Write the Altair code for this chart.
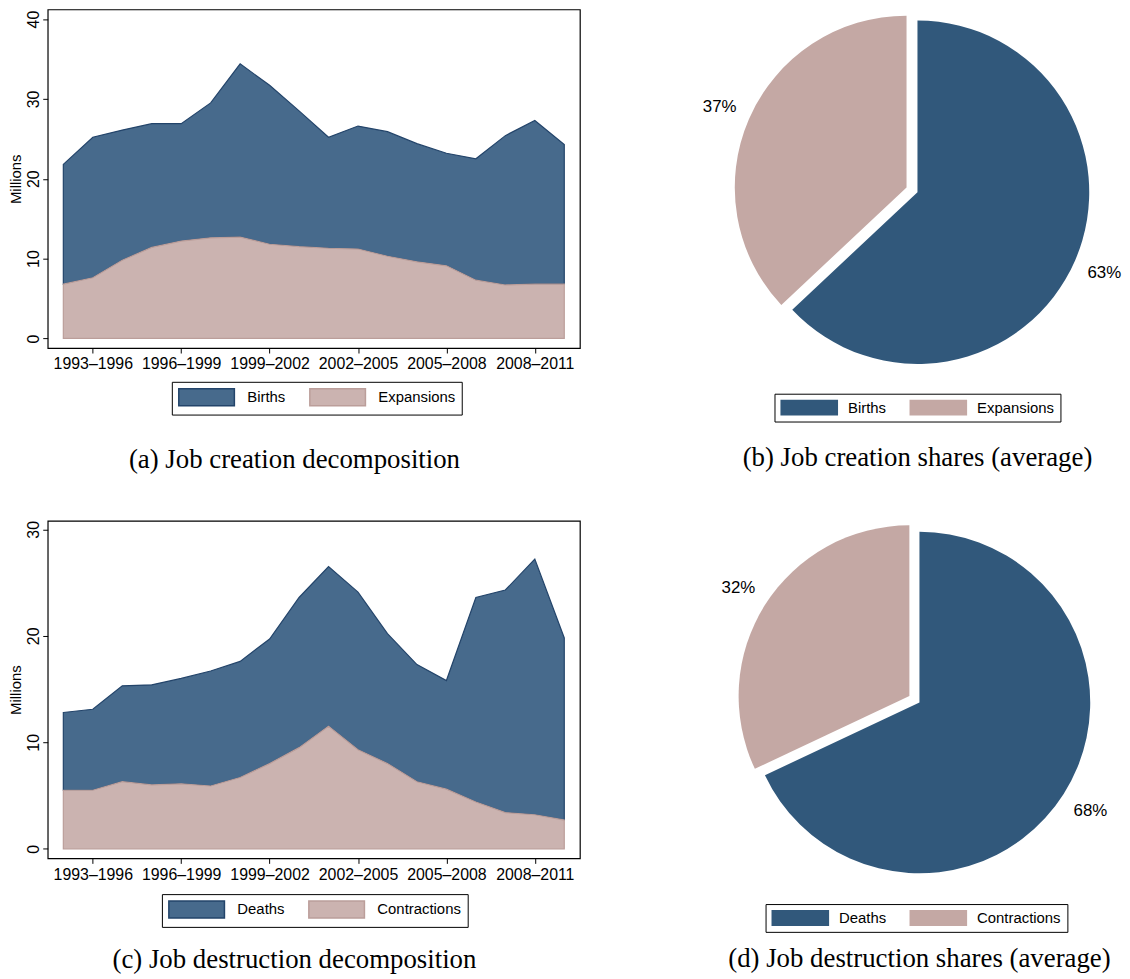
import math
import altair as alt
import pandas as pd

# ---------------- data ----------------
periods = ["1992–1995", "1993–1996", "1994–1997", "1995–1998", "1996–1999", "1997–2000",
           "1998–2001", "1999–2002", "2000–2003", "2001–2004", "2002–2005", "2003–2006",
           "2004–2007", "2005–2008", "2006–2009", "2007–2010", "2008–2011", "2009–2012"]
tick_labels = ["1993–1996", "1996–1999", "1999–2002", "2002–2005", "2005–2008", "2008–2011"]

creation_names = ["Births", "Expansions"]
births = [15.0, 17.6, 16.3, 15.5, 14.7, 16.9, 21.7, 19.9, 17.0, 13.9, 15.4, 15.6, 14.8, 14.1,
          15.2, 18.7, 20.5, 17.5]
expansions = [6.8, 7.6, 9.8, 11.4, 12.2, 12.6, 12.7, 11.8, 11.5, 11.3, 11.2, 10.3, 9.6, 9.1,
              7.3, 6.7, 6.8, 6.8]

destruction_names = ["Deaths", "Contractions"]
deaths = [7.3, 7.6, 9.0, 9.4, 9.9, 10.8, 10.9, 11.7, 14.1, 15.0, 14.8, 12.2, 11.0, 10.2,
          19.2, 20.9, 24.0, 17.1]
contractions = [5.5, 5.5, 6.3, 6.0, 6.1, 5.9, 6.7, 8.0, 9.5, 11.5, 9.3, 8.0, 6.3, 5.6,
                4.4, 3.4, 3.2, 2.7]

creation_shares = [63, 37]
destruction_shares = [68, 32]

y_ticks_top = [0, 10, 20, 30, 40]
y_ticks_bottom = [0, 10, 20, 30]

captions = ["(a) Job creation decomposition", "(b) Job creation shares (average)",
            "(c) Job destruction decomposition", "(d) Job destruction shares (average)"]

# ---------------- style ----------------
AREA_BLUE = "#476a8c"
AREA_BLUE_LINE = "#23446a"
AREA_PINK = "#cbb3b0"
AREA_PINK_LINE = "#bb9e9a"
PIE_BLUE = "#31587b"
PIE_PINK = "#c4a8a4"
SANS = "Liberation Sans"
SERIF = "Liberation Serif"

W_AREA = 536


def caption_title(text, offset, frame):
    return alt.TitleParams(text, orient="bottom", anchor="middle", frame=frame,
                           font=SERIF, fontSize=27, fontWeight="normal", color="black",
                           offset=offset)


def area_panel(top_vals, bottom_vals, names, ydomain, yticks, caption, lx, ly, h, cap_off):
    rows = []
    for i, p in enumerate(periods):
        rows.append({"period": p, "series": names[0], "value": top_vals[i], "ord": 1})
        rows.append({"period": p, "series": names[1], "value": bottom_vals[i], "ord": 0})
    df = pd.DataFrame(rows)
    legend = alt.Legend(orient="none", legendX=lx, legendY=ly, direction="horizontal",
                        title=None, strokeColor="black", padding=6,
                        symbolType="M-1,-1H5.588V1H-1Z", symbolSize=289,
                        symbolStrokeWidth=1.5, labelFont=SANS,
                        labelFontSize=15, labelColor="black", labelOffset=51,
                        columnPadding=21, symbolOpacity=1)
    return alt.Chart(df).mark_area(strokeWidth=1.2, opacity=1, interpolate="linear").encode(
        x=alt.X("period:O", sort=periods,
                scale=alt.Scale(type="point", padding=0.53),
                axis=alt.Axis(values=tick_labels, title=None, labelAngle=0, labelPadding=3)),
        y=alt.Y("value:Q", stack="zero",
                scale=alt.Scale(domain=ydomain, nice=False, zero=False),
                axis=alt.Axis(values=yticks, title="Millions", labelAngle=270,
                              labelAlign="center", labelBaseline="bottom", labelPadding=1,
                              titleFontSize=15, titlePadding=2)),
        fill=alt.Fill("series:N", scale=alt.Scale(domain=names, range=[AREA_BLUE, AREA_PINK]),
                      legend=legend),
        stroke=alt.Stroke("series:N",
                          scale=alt.Scale(domain=names, range=[AREA_BLUE_LINE, AREA_PINK_LINE]),
                          legend=legend),
        order=alt.Order("ord:Q"),
    ).properties(width=W_AREA, height=h, title=caption_title(caption, cap_off, "bounds"),
                 view=alt.ViewBackground(stroke="black", strokeWidth=1.2))


def pie_panel(names, shares, caption, lx, ly, w, h, radius, cap_off):
    df = pd.DataFrame({"series": names, "share": shares, "ord": list(range(len(names)))})
    base = alt.Chart(df).transform_window(
        end="sum(share)", sort=[alt.SortField("ord")]
    ).transform_calculate(
        start="datum.end - datum.share",
        mid="datum.end - datum.share / 2",
        label="datum.share + '%'",
    )
    theta_scale = alt.Scale(domain=[0, 100], range=[0, 2 * math.pi])
    legend = alt.Legend(orient="none", legendX=lx, legendY=ly, direction="horizontal",
                        title=None, strokeColor="black", padding=6,
                        symbolType="M-1,-1H6.25V1H-1Z", symbolSize=256,
                        symbolStrokeWidth=0, labelFont=SANS, labelFontSize=15,
                        labelColor="black", labelOffset=52, columnPadding=23,
                        symbolOpacity=1)
    color_scale = alt.Scale(domain=names, range=[PIE_BLUE, PIE_PINK])
    layers = []
    explode = 12
    for i, name in enumerate(names):
        mid = (sum(shares[:i]) + shares[i] / 2) / 100 * 2 * math.pi
        dx = explode * math.sin(mid) if i == 1 else 0.0
        dy = -explode * math.cos(mid) if i == 1 else 0.0
        part = base.transform_filter(alt.datum.series == name)
        if i == 0:
            fill = alt.Fill("series:N", scale=color_scale, legend=legend)
        else:
            fill = alt.Fill("series:N", scale=color_scale, legend=None)
        layers.append(part.mark_arc(radius=radius, xOffset=dx, yOffset=dy).encode(
            theta=alt.Theta("start:Q", scale=theta_scale),
            theta2=alt.Theta2("end:Q"),
            fill=fill,
        ))
        layers.append(part.mark_text(radius=radius + 32, xOffset=dx, yOffset=dy, font=SANS,
                                     fontSize=17, color="black").encode(
            theta=alt.Theta("mid:Q", scale=theta_scale),
            text="label:N",
        ))
    return alt.layer(*layers).properties(
        width=w, height=h, title=caption_title(caption, cap_off, "group"),
        view=alt.ViewBackground(stroke="transparent", strokeWidth=0))


panel_a = area_panel(births, expansions, creation_names, [-1.2, 41.2], y_ticks_top,
                     captions[0], 125, 375, 341, 32)
panel_b = pie_panel(creation_names, creation_shares, captions[1], 57, 387, 402, 368, 173, 23)
panel_c = area_panel(deaths, contractions, destruction_names, [-0.9, 30.8], y_ticks_bottom,
                     captions[2], 115, 376, 340, 20)
panel_d = pie_panel(destruction_names, destruction_shares, captions[3], 44, 386, 398, 366,
                    172, 14)

indep = dict(x="independent", y="independent", fill="independent", stroke="independent",
             theta="independent")

row1 = alt.hconcat(panel_a, panel_b, spacing=122).resolve_scale(**indep).resolve_legend(
    fill="independent", stroke="independent")
row2 = alt.hconcat(panel_c, panel_d, spacing=141).resolve_scale(**indep).resolve_legend(
    fill="independent", stroke="independent")

chart = alt.vconcat(row1, row2, spacing=46).resolve_scale(**indep).resolve_legend(
    fill="independent", stroke="independent"
).properties(
    padding={"left": 0, "top": -3, "right": 0, "bottom": 2},
    background="white",
).configure_axis(
    domain=False, grid=False, tickColor="black", tickSize=5, tickWidth=1,
    labelColor="black", labelFont=SANS, labelFontSize=16,
    titleColor="black", titleFont=SANS, titleFontWeight="normal",
).configure_legend(
    labelLimit=300,
)

chart.save("out.html", embed_options={"renderer": "svg", "actions": False})
